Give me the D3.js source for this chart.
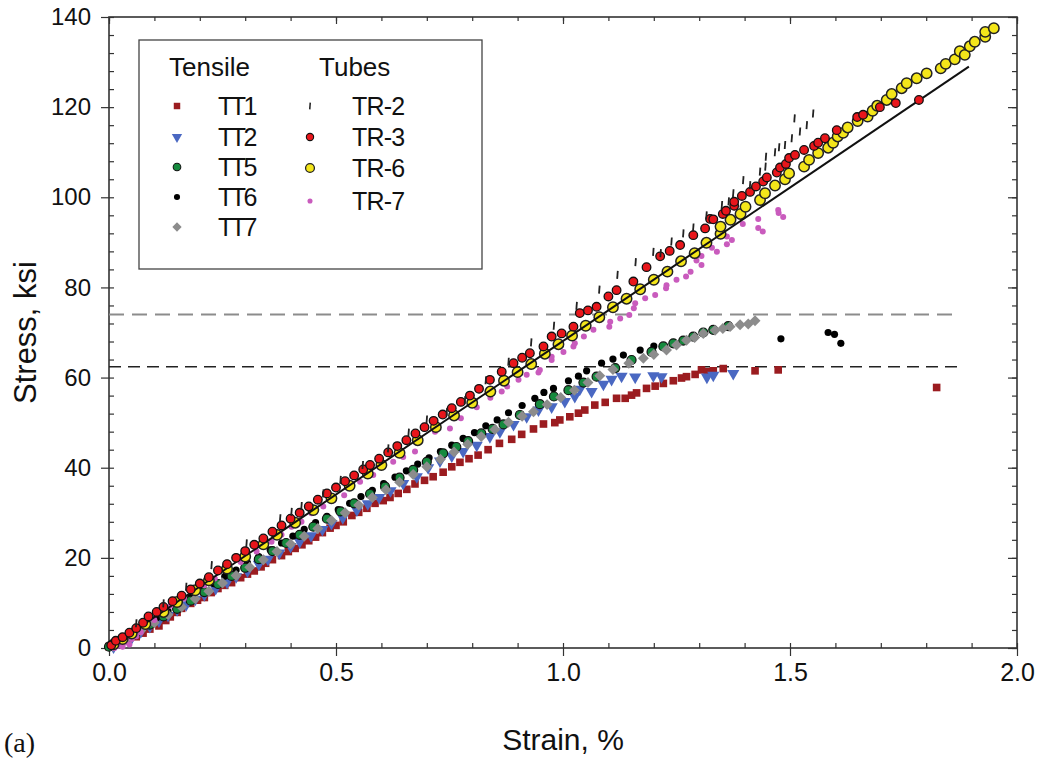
<!DOCTYPE html>
<html>
<head>
<meta charset="utf-8">
<script src="https://cdn.jsdelivr.net/npm/d3@7"></script>
<style>
    html, body { margin: 0; padding: 0; background: #fff; }
    svg { display: block; font-family: "Liberation Sans", Arial, sans-serif; }
</style>
</head>
<body>
<div id="chart"></div>
<script>
/* ============================================================
   DATA — [strain %, stress ksi]
============================================================ */

const TT1 = [
    [0.0, 0.3], [0.02, 0.8], [0.04, 1.6], [0.06, 2.5], [0.075, 3.3], [0.09, 4.2], [0.11, 4.9],
    [0.125, 6.1], [0.135, 6.9], [0.15, 7.9], [0.16, 8.8], [0.18, 9.9], [0.195, 10.6], [0.21, 11.2],
    [0.225, 12.3], [0.24, 13.2], [0.255, 13.9], [0.27, 14.5], [0.29, 15.6], [0.305, 16.4], [0.32, 17.1],
    [0.335, 18.0], [0.345, 18.8], [0.36, 19.6], [0.38, 20.5], [0.395, 21.4], [0.41, 22.1], [0.425, 22.9],
    [0.44, 23.8], [0.455, 24.6], [0.47, 25.6], [0.487, 26.6], [0.5, 27.2], [0.516, 28.0], [0.535, 29.4],
    [0.55, 30.1], [0.568, 31.0], [0.586, 32.1], [0.604, 32.7], [0.619, 33.4], [0.637, 34.3], [0.656, 35.2],
    [0.674, 36.4], [0.695, 37.2], [0.714, 38.0], [0.736, 39.0], [0.755, 40.2], [0.773, 41.2], [0.793, 42.0],
    [0.813, 42.8], [0.835, 44.0], [0.86, 45.4], [0.887, 46.3], [0.909, 47.4], [0.935, 48.6], [0.957, 49.7],
    [0.982, 50.0], [0.993, 50.6], [1.015, 51.3], [1.034, 52.1], [1.048, 52.8], [1.07, 53.9], [1.093, 54.5],
    [1.118, 55.4], [1.137, 55.4], [1.151, 56.1], [1.162, 56.6], [1.184, 57.6], [1.203, 58.1], [1.221, 58.7],
    [1.243, 59.3], [1.261, 59.9], [1.272, 60.2], [1.291, 60.7], [1.305, 61.7], [1.318, 61.3], [1.331, 61.5],
    [1.353, 62.0], [1.423, 61.5], [1.474, 61.7], [1.823, 57.8]
];

const TT2 = [
    [0.01, 0.2], [0.03, 1.2], [0.05, 2.3], [0.07, 3.6], [0.09, 4.8], [0.11, 6.0], [0.13, 7.2],
    [0.15, 8.5], [0.17, 9.6], [0.19, 10.8], [0.21, 11.8], [0.235, 13.2], [0.26, 14.6], [0.28, 15.8],
    [0.305, 17.1], [0.33, 18.6], [0.35, 19.7], [0.375, 21.1], [0.4, 22.5], [0.42, 23.6], [0.445, 24.9],
    [0.47, 26.3], [0.49, 27.6], [0.515, 28.9], [0.546, 30.6], [0.57, 32.0], [0.595, 33.4], [0.62, 34.9],
    [0.648, 36.5], [0.678, 38.0], [0.703, 40.0], [0.729, 41.5], [0.755, 42.6], [0.78, 43.6], [0.81, 45.0],
    [0.839, 46.9], [0.861, 48.0], [0.891, 49.6], [0.92, 51.3], [0.946, 52.8], [0.975, 53.5], [1.004, 54.7],
    [1.026, 55.8], [1.037, 57.4], [1.063, 56.9], [1.089, 58.5], [1.107, 59.6], [1.129, 60.3], [1.159, 60.1],
    [1.199, 60.4], [1.217, 60.2], [1.317, 60.1], [1.331, 60.5], [1.375, 60.9]
];

const TT5 = [
    [0.0, 0.3], [0.03, 1.6], [0.06, 3.4], [0.09, 5.2], [0.12, 7.0], [0.15, 8.7], [0.18, 10.5],
    [0.21, 12.4], [0.24, 14.2], [0.27, 16.0], [0.3, 17.8], [0.33, 19.7], [0.36, 21.5], [0.39, 23.3],
    [0.42, 25.1], [0.45, 26.9], [0.48, 28.7], [0.51, 30.3], [0.54, 32.1], [0.575, 34.2], [0.608, 35.8],
    [0.64, 37.8], [0.67, 39.5], [0.7, 41.3], [0.736, 43.2], [0.765, 44.6], [0.791, 45.9], [0.82, 47.6],
    [0.845, 48.6], [0.869, 49.6], [0.905, 51.7], [0.949, 54.1], [0.98, 55.8], [1.012, 57.2], [1.045, 58.9],
    [1.074, 60.2], [1.115, 62.1], [1.151, 63.9], [1.195, 65.7], [1.221, 66.9], [1.243, 67.6], [1.265, 68.2],
    [1.287, 69.1], [1.309, 70.0], [1.331, 70.6], [1.364, 71.4]
];

const TT6 = [
    [0.005, 0.5], [0.03, 2.0], [0.055, 3.6], [0.08, 5.1], [0.105, 6.7], [0.13, 8.2], [0.155, 9.8],
    [0.18, 11.3], [0.205, 12.9], [0.23, 14.3], [0.255, 15.9], [0.28, 17.3], [0.305, 18.9], [0.33, 20.3],
    [0.355, 21.8], [0.38, 23.3], [0.405, 24.8], [0.43, 26.3], [0.455, 27.8], [0.48, 29.2], [0.505, 30.7],
    [0.53, 32.1], [0.555, 33.6], [0.58, 35.0], [0.605, 36.5], [0.63, 37.9], [0.655, 39.3], [0.68, 40.8],
    [0.705, 42.2], [0.73, 43.6], [0.755, 45.0], [0.78, 46.5], [0.805, 47.8], [0.83, 49.3], [0.855, 50.6],
    [0.88, 52.2], [0.91, 53.8], [0.938, 55.4], [0.958, 56.7], [0.979, 57.6], [1.012, 59.3], [1.034, 60.3],
    [1.052, 61.5], [1.085, 63.2], [1.11, 64.1], [1.133, 65.0], [1.17, 66.1], [1.2, 67.0],
    [1.48, 68.6], [1.584, 70.0], [1.598, 69.6], [1.612, 67.6]
];

const TT7 = [
    [0.01, 0.4], [0.04, 2.1], [0.07, 3.9], [0.1, 5.6], [0.13, 7.4], [0.16, 9.1], [0.19, 10.9],
    [0.22, 12.6], [0.25, 14.4], [0.28, 16.1], [0.31, 17.9], [0.34, 19.6], [0.37, 21.4], [0.4, 23.1],
    [0.43, 24.8], [0.46, 26.5], [0.49, 28.3], [0.52, 30.0], [0.55, 31.7], [0.58, 33.4], [0.61, 35.1],
    [0.64, 36.8], [0.67, 38.5], [0.7, 40.2], [0.73, 41.9], [0.76, 43.5], [0.79, 45.2], [0.82, 46.9],
    [0.85, 48.5], [0.88, 50.1], [0.91, 51.4], [0.935, 52.4], [0.965, 54.0], [0.995, 55.6], [1.025, 57.2],
    [1.055, 58.9], [1.081, 60.4], [1.11, 61.8], [1.145, 63.2], [1.177, 64.3], [1.2, 65.1], [1.228, 66.1],
    [1.25, 67.2], [1.272, 68.3], [1.29, 68.9], [1.309, 69.8], [1.335, 70.5], [1.352, 70.9], [1.368, 71.3],
    [1.39, 71.7], [1.408, 71.9], [1.423, 72.6]
];

const TR2 = [
    [0.06, 5.5], [0.12, 9.9], [0.17, 13.6], [0.226, 18.4], [0.303, 23.2], [0.377, 28.8], [0.402, 30.2],
    [0.424, 31.5], [0.472, 34.3], [0.51, 37.3], [0.559, 40.6], [0.615, 44.3], [0.66, 47.8], [0.7, 50.7],
    [0.744, 52.4], [0.784, 55.0], [0.83, 59.4], [0.88, 63.5], [0.93, 67.8], [0.98, 71.5], [1.03, 75.9],
    [1.08, 79.5], [1.12, 82.8], [1.16, 85.6], [1.199, 87.9], [1.215, 87.6], [1.239, 90.2], [1.265, 92.0],
    [1.287, 93.3], [1.316, 96.0], [1.35, 98.3], [1.365, 99.1], [1.375, 100.9], [1.397, 103.8], [1.412, 102.7],
    [1.434, 105.7], [1.446, 106.8], [1.447, 109.0], [1.467, 110.0], [1.476, 111.1], [1.489, 111.6],
    [1.504, 113.1], [1.51, 117.5], [1.522, 114.6], [1.537, 116.0], [1.551, 118.6]
];

const TR3 = [
    [0.005, 0.6], [0.015, 1.6], [0.03, 2.4], [0.045, 3.4], [0.06, 4.4], [0.075, 5.6], [0.087, 7.0],
    [0.105, 8.0], [0.12, 9.1], [0.14, 10.4], [0.16, 11.6], [0.18, 13.0], [0.2, 14.3], [0.22, 15.7],
    [0.24, 17.2], [0.26, 18.6], [0.28, 20.0], [0.3, 21.5], [0.32, 22.9], [0.34, 24.3], [0.36, 25.8],
    [0.38, 27.2], [0.4, 28.7], [0.42, 30.0], [0.44, 31.4], [0.46, 32.9], [0.48, 34.3], [0.5, 35.6],
    [0.52, 37.0], [0.54, 38.3], [0.56, 39.6], [0.575, 40.6], [0.595, 42.0], [0.615, 43.4], [0.635, 44.8],
    [0.655, 46.1], [0.675, 47.6], [0.695, 49.0], [0.715, 50.4], [0.735, 51.8], [0.755, 53.2], [0.775, 54.6],
    [0.795, 56.0], [0.815, 57.5], [0.839, 59.5], [0.865, 61.3], [0.891, 63.2], [0.91, 64.4], [0.927, 65.4],
    [0.957, 66.9], [0.975, 69.1], [0.997, 69.8], [1.023, 71.3], [1.037, 74.3], [1.055, 74.9], [1.074, 75.7],
    [1.1, 78.0], [1.118, 79.4], [1.155, 81.3], [1.184, 84.5], [1.214, 86.9], [1.235, 88.1], [1.258, 89.4],
    [1.287, 91.6], [1.313, 93.1], [1.324, 95.2], [1.331, 95.1], [1.352, 96.3], [1.359, 97.0], [1.377, 98.1],
    [1.377, 99.0], [1.394, 100.3], [1.412, 101.2], [1.425, 102.4], [1.441, 103.5], [1.449, 104.4],
    [1.471, 105.5], [1.478, 106.6], [1.491, 107.4], [1.498, 108.7], [1.511, 109.4], [1.531, 110.5],
    [1.553, 111.4], [1.562, 112.1], [1.577, 113.1], [1.603, 114.9], [1.648, 117.8], [1.661, 118.3],
    [1.698, 120.0], [1.733, 120.9], [1.784, 121.6]
];

const TR6 = [
    [0.01, 0.8], [0.03, 2.0], [0.05, 3.2], [0.08, 5.3], [0.12, 8.0], [0.15, 10.2], [0.19, 12.8],
    [0.22, 15.0], [0.26, 17.6], [0.3, 20.3], [0.34, 23.0], [0.37, 25.1], [0.41, 27.8], [0.45, 30.6],
    [0.49, 33.2], [0.53, 36.0], [0.57, 38.7], [0.6, 40.6], [0.64, 43.3], [0.68, 46.1], [0.72, 49.0],
    [0.76, 51.6], [0.8, 54.4], [0.84, 56.9], [0.87, 59.3], [0.9, 61.2], [0.93, 63.0], [0.96, 65.3],
    [0.99, 67.4], [1.02, 69.3], [1.05, 71.5], [1.08, 73.4], [1.11, 75.6], [1.14, 77.5], [1.17, 79.6],
    [1.2, 81.7], [1.23, 83.5], [1.26, 85.8], [1.29, 87.6], [1.316, 89.9], [1.347, 91.9], [1.347, 93.5],
    [1.369, 95.0], [1.391, 96.3], [1.402, 97.9], [1.434, 99.4], [1.445, 100.9], [1.467, 102.6],
    [1.489, 104.0], [1.498, 105.3], [1.531, 106.8], [1.542, 108.3], [1.562, 109.8], [1.584, 111.0],
    [1.595, 112.1], [1.605, 113.5], [1.617, 114.3], [1.627, 115.5], [1.649, 116.9], [1.671, 117.9],
    [1.682, 119.2], [1.692, 120.3], [1.713, 121.6], [1.724, 122.9], [1.746, 124.2], [1.757, 125.3],
    [1.779, 126.4], [1.801, 127.5], [1.832, 128.6], [1.843, 129.6], [1.863, 130.6], [1.874, 132.4],
    [1.885, 131.6], [1.896, 133.5], [1.907, 134.5], [1.93, 135.6], [1.93, 136.7], [1.949, 137.5]
];

const TR7 = [
    [0.005, 0.2], [0.012, 0.0], [0.02, 0.5], [0.03, 0.3], [0.035, 1.2], [0.045, 0.8], [0.05, 2.0],
    [0.06, 2.6], [0.07, 3.5], [0.087, 5.2], [0.1, 6.2], [0.12, 7.5], [0.135, 9.4], [0.149, 10.4],
    [0.165, 11.0], [0.19, 12.6], [0.21, 13.9], [0.233, 15.4], [0.26, 17.2], [0.29, 19.1], [0.325, 21.4],
    [0.358, 23.6], [0.38, 25.1], [0.402, 26.9], [0.424, 28.0], [0.446, 29.9], [0.472, 31.4], [0.494, 32.8],
    [0.518, 33.9], [0.553, 36.9], [0.582, 38.4], [0.626, 41.3], [0.648, 42.4], [0.674, 43.6], [0.718, 48.0],
    [0.751, 48.7], [0.775, 51.0], [0.81, 53.4], [0.84, 55.5], [0.865, 56.9], [0.877, 58.0], [0.902, 59.5],
    [0.92, 60.6], [0.946, 61.1], [0.949, 61.7], [0.975, 63.9], [0.975, 64.6], [1.001, 65.7], [1.023, 66.9],
    [1.026, 67.6], [1.046, 69.1], [1.067, 70.6], [1.102, 71.3], [1.104, 72.4], [1.126, 73.1], [1.146, 73.9],
    [1.156, 75.4], [1.159, 76.5], [1.181, 77.6], [1.203, 78.3], [1.227, 79.8], [1.228, 80.5], [1.25, 81.7],
    [1.271, 82.4], [1.281, 83.5], [1.294, 86.0], [1.305, 85.0], [1.305, 87.0], [1.328, 88.8], [1.339, 87.9],
    [1.361, 89.6], [1.361, 91.3], [1.372, 90.5], [1.396, 94.1], [1.43, 93.2], [1.43, 95.2], [1.44, 92.4],
    [1.474, 97.2], [1.475, 96.5], [1.485, 95.6]
];

// reference lines
const FIT_LINE = [[0, 0], [1.894, 129.0]];
const UPPER_DASH = [[0, 74.0], [1.86, 74.0]];
const LOWER_DASH = [[0, 62.4], [1.87, 62.4]];

const X_TICKS = [0.0, 0.5, 1.0, 1.5, 2.0];
const Y_TICKS = [0, 20, 40, 60, 80, 100, 120, 140];

/* ============================================================
   SETUP
============================================================ */

const W = 1040, H = 761;
const plot = { left: 109, right: 1017, top: 17, bottom: 648 };

const svg = d3.select("#chart")
    .append("svg")
    .attr("width", W)
    .attr("height", H);

const xScale = d3.scaleLinear().domain([0, 2]).range([plot.left, plot.right]);
const yScale = d3.scaleLinear().domain([0, 140]).range([plot.bottom, plot.top]);

/* ============================================================
   AXES + FRAME
============================================================ */

function drawAxes() {
    const xMinor = d3.range(0, 2.0001, 0.1);
    const yMinor = d3.range(0, 140.001, 4);

    // bottom: minor inward, major outward
    svg.append("g")
        .attr("transform", `translate(0,${plot.bottom})`)
        .call(d3.axisBottom(xScale).tickValues(xMinor).tickSize(-5).tickFormat(""))
        .call(a => a.select(".domain").remove());
    svg.append("g")
        .attr("class", "x-major")
        .attr("transform", `translate(0,${plot.bottom})`)
        .call(d3.axisBottom(xScale).tickValues(X_TICKS).tickSize(8).tickPadding(7)
            .tickFormat(d3.format(".1f")))
        .call(a => a.select(".domain").remove());

    // left
    svg.append("g")
        .attr("transform", `translate(${plot.left},0)`)
        .call(d3.axisLeft(yScale).tickValues(yMinor).tickSize(-5).tickFormat(""))
        .call(a => a.select(".domain").remove());
    svg.append("g")
        .attr("class", "y-major")
        .attr("transform", `translate(${plot.left},0)`)
        .call(d3.axisLeft(yScale).tickValues(Y_TICKS).tickSize(8).tickPadding(10))
        .call(a => a.select(".domain").remove());

    // top / right: inward only
    svg.append("g")
        .attr("transform", `translate(0,${plot.top})`)
        .call(d3.axisTop(xScale).tickValues(xMinor).tickSize(-4).tickFormat(""))
        .call(a => a.select(".domain").remove());
    svg.append("g")
        .attr("transform", `translate(0,${plot.top})`)
        .call(d3.axisTop(xScale).tickValues(X_TICKS).tickSize(-7).tickFormat(""))
        .call(a => a.select(".domain").remove());
    svg.append("g")
        .attr("transform", `translate(${plot.right},0)`)
        .call(d3.axisRight(yScale).tickValues(yMinor).tickSize(-5).tickFormat(""))
        .call(a => a.select(".domain").remove());
    svg.append("g")
        .attr("transform", `translate(${plot.right},0)`)
        .call(d3.axisRight(yScale).tickValues(Y_TICKS).tickSize(-9).tickFormat(""))
        .call(a => a.select(".domain").remove());

    svg.selectAll(".tick line").attr("stroke", "#333").attr("stroke-width", 1.2);

    svg.selectAll(".x-major text")
        .attr("font-size", "25px")
        .attr("fill", "#111")
        .style("font-family", "Liberation Sans, Arial, sans-serif");
    svg.selectAll(".y-major text")
        .attr("font-size", "24px")
        .attr("fill", "#111")
        .style("font-family", "Liberation Sans, Arial, sans-serif");

    svg.append("rect")
        .attr("x", plot.left)
        .attr("y", plot.top)
        .attr("width", plot.right - plot.left)
        .attr("height", plot.bottom - plot.top)
        .attr("fill", "none")
        .attr("stroke", "#333")
        .attr("stroke-width", 1.6);

    svg.append("text")
        .attr("x", (plot.left + plot.right) / 2)
        .attr("y", 750)
        .attr("text-anchor", "middle")
        .attr("font-size", "30px")
        .attr("fill", "#111")
        .text("Strain, %");

    svg.append("text")
        .attr("transform", `translate(36,${(plot.top + plot.bottom) / 2}) rotate(-90)`)
        .attr("text-anchor", "middle")
        .attr("font-size", "31px")
        .attr("fill", "#111")
        .text("Stress, ksi");

    svg.append("text")
        .attr("x", 4)
        .attr("y", 752)
        .attr("font-size", "28px")
        .attr("fill", "#111")
        .style("font-family", "Liberation Serif, Times New Roman, serif")
        .text("(a)");
}

/* ============================================================
   REFERENCE LINES
============================================================ */

const line = d3.line().x(d => xScale(d[0])).y(d => yScale(d[1]));

function drawRefLines() {
    svg.append("path")
        .datum(UPPER_DASH)
        .attr("d", line)
        .attr("fill", "none")
        .attr("stroke", "#8c8c8c")
        .attr("stroke-width", 2)
        .attr("stroke-dasharray", "15 8");

    svg.append("path")
        .datum(LOWER_DASH)
        .attr("d", line)
        .attr("fill", "none")
        .attr("stroke", "#222")
        .attr("stroke-width", 1.4)
        .attr("stroke-dasharray", "12 7");
}

/* ============================================================
   MARKERS
============================================================ */

const SERIES = {
    TT1: { type: "square", size: 58, fill: "#9b1c20", stroke: "none" },
    TT2: { type: "triangle", size: 64, fill: "#4a68c2", stroke: "none" },
    TT5: { type: "circle", r: 4.5, fill: "#168a3e", stroke: "#111", sw: 1.2 },
    TT6: { type: "circle", r: 3.6, fill: "#000", stroke: "none" },
    TT7: { type: "diamond", size: 60, fill: "#8c8c8c", stroke: "none" },
    "TR-2": { type: "tick" },
    "TR-3": { type: "circle", r: 4.3, fill: "#e8161b", stroke: "#111", sw: 1.3 },
    "TR-6": { type: "circle", r: 5.2, fill: "#f4e61a", stroke: "#222", sw: 1.5 },
    "TR-7": { type: "circle", r: 3, fill: "#c95bbd", stroke: "none" }
};

// legend glyphs are drawn a bit smaller than the plotted ones
const LEGEND_SCALE = 0.85;

function addMarker(sel, spec) {
    if (spec.type === "circle") {
        sel.append("circle")
            .attr("r", spec.r)
            .attr("fill", spec.fill)
            .attr("stroke", spec.stroke)
            .attr("stroke-width", spec.sw || 0);
    } else if (spec.type === "tick") {
        sel.append("line")
            .attr("x1", -0.3).attr("y1", 4)
            .attr("x2", 0.3).attr("y2", -4)
            .attr("stroke", "#222")
            .attr("stroke-width", 1.8);
    } else {
        const sym = spec.type === "triangle" ? d3.symbolTriangle : d3.symbolSquare;
        const rot = spec.type === "triangle" ? 180 : spec.type === "diamond" ? 45 : 0;
        sel.append("path")
            .attr("d", d3.symbol(sym, spec.size)())
            .attr("transform", `rotate(${rot})`)
            .attr("fill", spec.fill);
    }
}

function drawSeries(name, data) {
    const spec = SERIES[name];
    svg.append("g")
        .attr("class", "series")
        .selectAll("g")
        .data(data)
        .join("g")
        .attr("transform", d => `translate(${xScale(d[0])},${yScale(d[1])})`)
        .each(function () { addMarker(d3.select(this), spec); });
}

/* ============================================================
   LEGEND
============================================================ */

function drawLegend() {
    const lg = svg.append("g");

    lg.append("rect")
        .attr("x", 139).attr("y", 40)
        .attr("width", 343).attr("height", 229)
        .attr("fill", "#fff")
        .attr("stroke", "#444")
        .attr("stroke-width", 1.3);

    lg.append("text").attr("x", 169).attr("y", 76)
        .attr("font-size", "26px").attr("fill", "#111").text("Tensile");
    lg.append("text").attr("x", 319).attr("y", 76)
        .attr("font-size", "26px").attr("fill", "#111").text("Tubes");

    const left = [["TT1", 106], ["TT2", 137], ["TT5", 167], ["TT6", 197], ["TT7", 227]];
    const right = [["TR-2", 106], ["TR-3", 137], ["TR-6", 168], ["TR-7", 201]];

    left.forEach(([name, y]) => {
        addMarker(lg.append("g").attr("transform", `translate(177,${y}) scale(${LEGEND_SCALE})`), SERIES[name]);
        lg.append("text").attr("x", 218).attr("y", y + 9)
            .attr("font-size", "25px").attr("letter-spacing", "-2.5px")
            .attr("fill", "#111").text(name);
    });
    right.forEach(([name, y]) => {
        addMarker(lg.append("g").attr("transform", `translate(310,${y}) scale(${LEGEND_SCALE})`), SERIES[name]);
        lg.append("text").attr("x", 352).attr("y", y + 9)
            .attr("font-size", "25px").attr("letter-spacing", "-0.8px")
            .attr("fill", "#111").text(name);
    });
}

/* ============================================================
   DRAW
============================================================ */

drawAxes();
drawRefLines();
drawLegend();

drawSeries("TT1", TT1);
drawSeries("TT2", TT2);
drawSeries("TT6", TT6);
drawSeries("TT5", TT5);
drawSeries("TT7", TT7);
drawSeries("TR-7", TR7);
drawSeries("TR-6", TR6);

svg.append("path")
    .datum(FIT_LINE)
    .attr("d", line)
    .attr("fill", "none")
    .attr("stroke", "#111")
    .attr("stroke-width", 2);

drawSeries("TR-3", TR3);
drawSeries("TR-2", TR2);
</script>
</body>
</html>
